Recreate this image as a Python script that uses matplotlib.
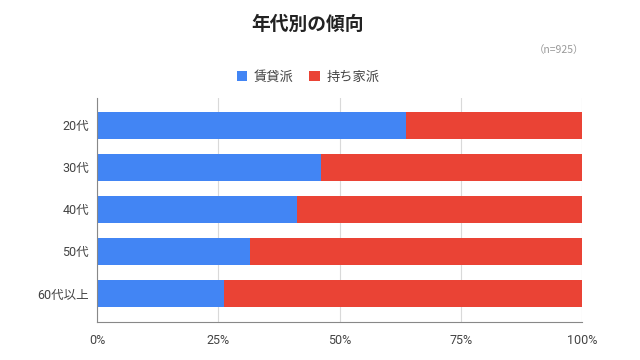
import matplotlib
matplotlib.use("Agg")
import matplotlib.pyplot as plt
from matplotlib.ticker import FuncFormatter

plt.rcParams['font.family'] = ['Roboto', 'Noto Sans CJK JP', 'DejaVu Sans']

categories = ["20代", "30代", "40代", "50代", "60代以上"]
rent = [63.7, 46.2, 41.3, 31.5, 26.1]
own = [100 - v for v in rent]
series_names = ["賃貸派", "持ち家派"]
xticks = [0, 25, 50, 75, 100]

fig = plt.figure(figsize=(6.4, 3.6), dpi=100)
ax = fig.add_axes([97.3/640, 1 - 321.7/360, (582-97.3)/640, (321.7-98)/360])

y = list(range(len(categories)))
ax.barh(y, rent, height=0.65, color="#4285F4", label=series_names[0], zorder=3)
ax.barh(y, own, left=rent, height=0.65, color="#EA4335", label=series_names[1], zorder=3)

ax.set_xlim(0, 100)
ax.set_ylim(len(categories) - 1 + 0.67, -0.65)
ax.set_yticks(y)
ax.set_yticklabels(categories, fontsize=9, color="#444444")
ax.set_xticks(xticks)
ax.xaxis.set_major_formatter(FuncFormatter(lambda v, p: f"{int(v)}%"))
ax.tick_params(axis='x', labelsize=9, labelcolor="#444444", length=0, pad=9)
ax.tick_params(axis='y', length=0, pad=6)
ax.grid(axis='x', color="#d9d9d9", linewidth=0.8, zorder=0)
for s in ["top", "right"]:
    ax.spines[s].set_visible(False)
for s in ["left", "bottom"]:
    ax.spines[s].set_color("#888888")
    ax.spines[s].set_linewidth(0.8)
    ax.spines[s].set_zorder(4)

fig.text(308/640, 1 - 24/360, "年代別の傾向", ha="center", va="center",
         fontsize=13.5, fontweight="bold", color="#222222",
         family=['Noto Sans CJK JP', 'DejaVu Sans'])
fig.text(584/640, 1 - 50/360, "（n=925）", ha="right", va="center",
         fontsize=7.5, color="#999999",
         family=['Noto Sans CJK JP', 'DejaVu Sans'])

leg = fig.legend(loc="center", bbox_to_anchor=(308/640, 1 - 77/360), ncol=2,
                 frameon=False, fontsize=9.5, handlelength=0.8, handleheight=0.8,
                 handletextpad=0.5, columnspacing=1.2)
for t in leg.get_texts():
    t.set_color("#444444")

fig.savefig("out.png", dpi=100)
